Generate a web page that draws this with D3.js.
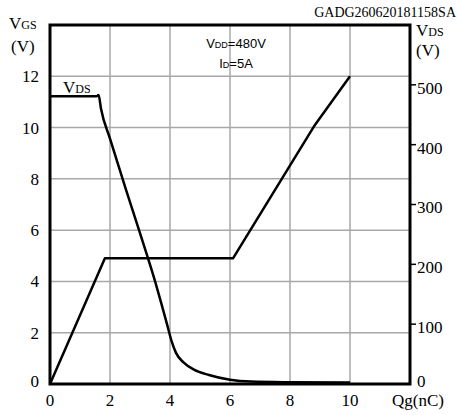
<!DOCTYPE html>
<html>
<head>
<meta charset="utf-8">
<script src="https://cdn.jsdelivr.net/npm/d3@7"></script>
<style>
  body { margin: 0; background: #fff; }
  svg { display: block; }
  .serif { font-family: "Liberation Serif", "Times New Roman", serif; }
  .sans { font-family: "Liberation Sans", Arial, sans-serif; }
</style>
</head>
<body>
<div id="chart"></div>
<script>
// data
const qTicks = [0, 2, 4, 6, 8, 10];
const qGrid = [2, 4, 6, 8, 10];
const vgsTicks = [0, 2, 4, 6, 8, 10, 12];
const vdsTicks = [0, 100, 200, 300, 400, 500];

const vgsQ = [0, 1.83, 6.1, 8.8, 10.0];
const vgsV = [0, 4.9, 4.9, 10.05, 12.0];

const vdsQ = [0, 1.55, 1.62, 1.7, 2.0, 2.5, 3.0, 3.5, 3.9, 4.05, 4.2, 4.45, 4.8, 5.3, 6.0, 6.7, 8.0, 10.0];
const vdsV = [481, 481, 483, 460, 410, 330, 252, 172, 100, 72, 52, 36, 24, 15, 7, 4, 3, 2.5];

const width = 457;
const height = 415;

const svg = d3.select('#chart')
    .append('svg')
    .attr('width', width)
    .attr('height', height);

const x = d3.scaleLinear().domain([0, 12]).range([50, 410]);
const yL = d3.scaleLinear().domain([0, 14]).range([384, 25]);
const yR = d3.scaleLinear().domain([0, 600]).range([384, 25]);

// grid
svg.selectAll('.vgrid')
    .data(qGrid)
    .enter()
    .append('line')
    .attr('x1', (d) => x(d))
    .attr('x2', (d) => x(d))
    .attr('y1', yL(14))
    .attr('y2', yL(0))
    .style('stroke', '#a8a8a8')
    .style('stroke-width', 1.5);

svg.selectAll('.hgrid')
    .data(vgsTicks.filter((d) => d > 0))
    .enter()
    .append('line')
    .attr('x1', x(0))
    .attr('x2', x(12))
    .attr('y1', (d) => yL(d))
    .attr('y2', (d) => yL(d))
    .style('stroke', '#a8a8a8')
    .style('stroke-width', 1.5);

// curves
const vgsLine = d3.line()
    .x((d, i) => x(vgsQ[i]))
    .y((d) => yL(d));

svg.append('path')
    .datum(vgsV)
    .attr('d', vgsLine)
    .style('fill', 'none')
    .style('stroke', '#000')
    .style('stroke-width', 2.5)
    .style('stroke-linejoin', 'round');

const vdsLine = d3.line()
    .x((d, i) => x(vdsQ[i]))
    .y((d) => yR(d))
    .curve(d3.curveMonotoneX);

svg.append('path')
    .datum(vdsV)
    .attr('d', vdsLine)
    .style('fill', 'none')
    .style('stroke', '#000')
    .style('stroke-width', 2.5)
    .style('stroke-linejoin', 'round');

// frame
svg.append('rect')
    .attr('x', x(0))
    .attr('y', yL(14))
    .attr('width', x(12) - x(0))
    .attr('height', yL(0) - yL(14))
    .style('fill', 'none')
    .style('stroke', '#000')
    .style('stroke-width', 3);

// right axis ticks
svg.selectAll('.rtick')
    .data(vdsTicks.filter((d) => d > 0))
    .enter()
    .append('line')
    .attr('x1', x(12))
    .attr('x2', x(12) + 6)
    .attr('y1', (d) => yR(d))
    .attr('y2', (d) => yR(d))
    .style('stroke', '#000')
    .style('stroke-width', 1.5);

// tick labels
svg.selectAll('.llabel')
    .data(vgsTicks)
    .enter()
    .append('text')
    .attr('class', 'serif')
    .attr('x', 39)
    .attr('y', (d) => yL(d) - (d === 0 ? 3 : 0))
    .attr('dy', '0.35em')
    .style('text-anchor', 'end')
    .style('font-size', '17px')
    .text((d) => d);

svg.selectAll('.rlabel')
    .data(vdsTicks)
    .enter()
    .append('text')
    .attr('class', 'serif')
    .attr('x', 417)
    .attr('y', (d) => yR(d) + (d === 0 ? -3 : 3))
    .attr('dy', '0.35em')
    .style('font-size', '17px')
    .text((d) => d);

svg.selectAll('.blabel')
    .data(qTicks)
    .enter()
    .append('text')
    .attr('class', 'serif')
    .attr('x', (d) => x(d))
    .attr('y', 406)
    .style('text-anchor', 'middle')
    .style('font-size', '17px')
    .text((d) => d);

svg.append('text')
    .attr('class', 'serif')
    .attr('x', 418)
    .attr('y', 406)
    .style('text-anchor', 'middle')
    .style('font-size', '17px')
    .text('Qg(nC)');

// axis titles
function subLabel(xPos, yPos, main, sub, mainSize, subSize, cls) {
    const t = svg.append('text')
        .attr('class', cls)
        .attr('x', xPos)
        .attr('y', yPos)
        .style('font-size', mainSize);
    t.append('tspan').text(main);
    t.append('tspan').style('font-size', subSize).text(sub);
    return t;
}

subLabel(9, 29, 'V', 'GS', '17px', '12px', 'serif');
svg.append('text')
    .attr('class', 'serif')
    .attr('x', 11)
    .attr('y', 52)
    .style('font-size', '17px')
    .text('(V)');

subLabel(416, 36, 'V', 'DS', '17px', '12px', 'serif');
svg.append('text')
    .attr('class', 'serif')
    .attr('x', 416)
    .attr('y', 56)
    .style('font-size', '17px')
    .text('(V)');

subLabel(63, 93, 'V', 'DS', '17px', '12px', 'serif');

svg.append('text')
    .attr('class', 'serif')
    .attr('x', 456)
    .attr('y', 17)
    .style('text-anchor', 'end')
    .style('font-size', '14px')
    .text('GADG260620181158SA');

// conditions
subLabel(236, 48, 'V', 'DD', '13px', '9px', 'sans')
    .style('text-anchor', 'middle')
    .append('tspan').text('=480V');
subLabel(236, 68, 'I', 'D', '13px', '9px', 'sans')
    .style('text-anchor', 'middle')
    .append('tspan').text('=5A');
</script>
</body>
</html>
